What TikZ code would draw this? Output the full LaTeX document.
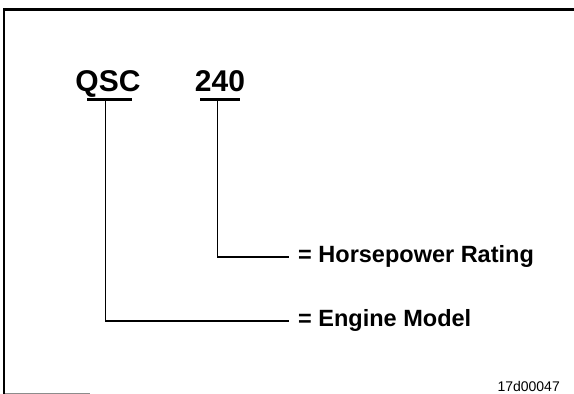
\documentclass[tikz,border=0pt]{standalone}
\usepackage{fontspec}
\setmainfont{Liberation Sans}
\usetikzlibrary{positioning,calc}
\tikzset{
  frame/.style={draw=black,line width=2.4pt},
  code/.style={font=\fontsize{30}{30}\selectfont\bfseries,inner sep=0pt,anchor=base},
  lbl/.style={font=\fontsize{23.5}{23.5}\selectfont\bfseries,inner sep=0pt,anchor=base west},
  fig/.style={font=\fontsize{14}{14}\selectfont,inner sep=0pt,anchor=base east},
  bar/.style={draw=black,line width=2.2pt},
  lead/.style={draw=black,line width=1.4pt},
}
\begin{document}
\begin{tikzpicture}[x=1pt,y=1pt]
  \useasboundingbox (0,0) rectangle (574,394);
  % frame (only top and left edges show)
  \draw[frame] (4,0) -- (4,384.5) -- (574,384.5);
  \draw[black!45,line width=0.8pt] (5,1) -- (90,1);
  % designation
  \node[code] (qsc) at (108,302) {QSC};
  \node[code] (hp) at (220,302) {240};
  \draw[bar] ([xshift=-21pt,yshift=-7.5pt]qsc.base) -- ([xshift=24pt,yshift=-7.5pt]qsc.base);
  \draw[bar] ([xshift=-20pt,yshift=-7.5pt]hp.base) -- ([xshift=20pt,yshift=-7.5pt]hp.base);
  \coordinate (qscfoot) at ([xshift=-2.5pt,yshift=-7.5pt]qsc.base);
  \coordinate (hpfoot) at ([xshift=-2.5pt,yshift=-7.5pt]hp.base);
  % meanings
  \node[lbl] (rating) at (298,131) {= Horsepower Rating};
  \node[lbl] (model) at (298,67) {= Engine Model};
  \draw[lead] (hpfoot) |- ([xshift=-9pt,yshift=6pt]rating.base west);
  \draw[lead] (qscfoot) |- ([xshift=-9pt,yshift=6pt]model.base west);
  \node[fig] (ref) at (560,2.5) {17d00047};
\end{tikzpicture}
\end{document}
